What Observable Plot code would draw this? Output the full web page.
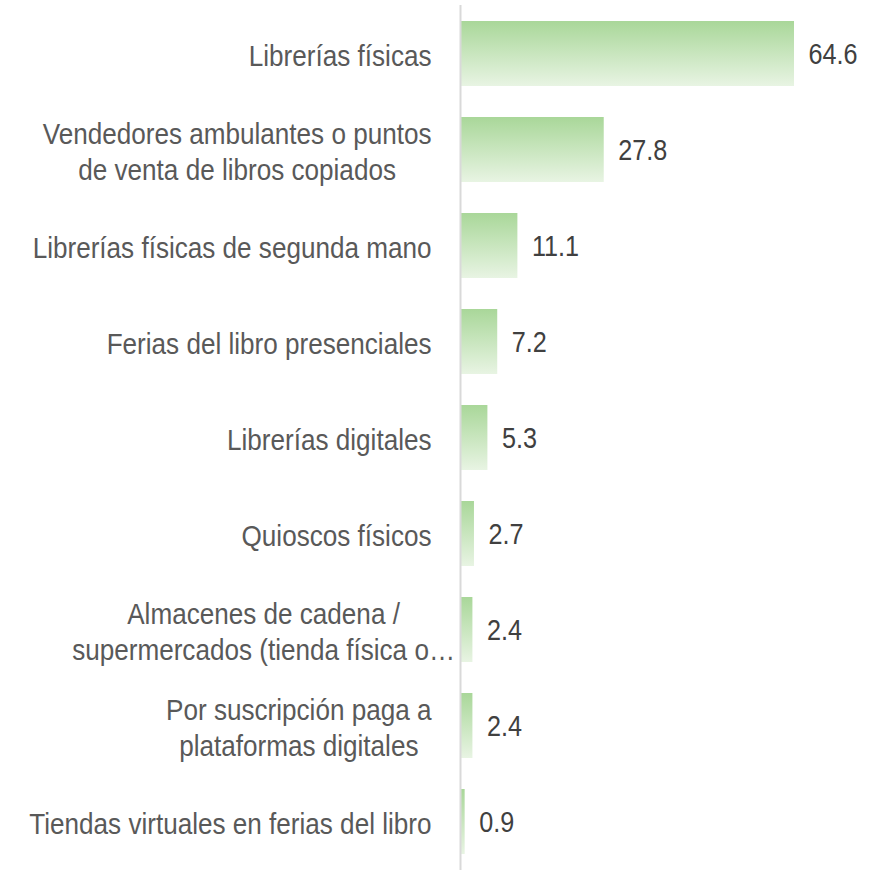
<!DOCTYPE html>
<html><head><meta charset="utf-8">
<script src="https://cdn.jsdelivr.net/npm/d3@7"></script>
<script src="https://cdn.jsdelivr.net/npm/@observablehq/plot@0.6"></script>
<style>body{margin:0;background:#fff;}</style>
</head><body><div id="chart"></div>
<script>
const categories = [
  "Librerías físicas",
  "Vendedores ambulantes o puntos\nde venta de libros copiados",
  "Librerías físicas de segunda mano",
  "Ferias del libro presenciales",
  "Librerías digitales",
  "Quioscos físicos",
  "Almacenes de cadena /\nsupermercados (tienda física o…",
  "Por suscripción paga a\nplataformas digitales",
  "Tiendas virtuales en ferias del libro"
];
const values = [64.6, 27.8, 11.1, 7.2, 5.3, 2.7, 2.4, 2.4, 0.9];
const data = categories.map((c, i) => ({cat: c, value: values[i]}));

const font = '"Liberation Sans Narrow","Arial Narrow","Liberation Sans",Arial,sans-serif';

const gradDefs = () => {
  const defs = d3.create("svg:defs");
  const g = defs.append("linearGradient").attr("id", "barGrad")
    .attr("x1", 0).attr("y1", 0).attr("x2", 0).attr("y2", 1);
  g.append("stop").attr("offset", "0%").attr("stop-color", "#a9d799");
  g.append("stop").attr("offset", "100%").attr("stop-color", "#e8f4e3");
  return defs.node();
};

const chart = Plot.plot({
  width: 887, height: 873,
  marginLeft: 460, marginRight: 93, marginTop: 5, marginBottom: 3,
  style: {fontFamily: font, fontSize: "30px", color: "#595959", background: "#fff"},
  x: {domain: [0, 64.6], axis: null},
  y: {domain: categories, paddingInner: 0.325, paddingOuter: 0.156, axis: null},
  marks: [
    gradDefs,
    Plot.barX(data, {x: "value", y: "cat", fill: "url(#barGrad)"}),
    Plot.ruleX([0], {stroke: "#d9d9d9", strokeWidth: 2}),
    Plot.axisY({tickSize: 0, tickPadding: 29, label: null, fontSize: 30, lineHeight: 1.2, fill: "#595959"}),
    Plot.text(data, {x: "value", y: "cat", text: d => d.value.toFixed(1), textAnchor: "start", dx: 14, fontSize: 30, fill: "#404040"})
  ]
});
document.getElementById("chart").appendChild(chart);

// narrow the glyphs horizontally (no condensed font installed)
function narrow(sel, k) {
  d3.select(chart).selectAll(sel).each(function() {
    const x = this.getAttribute("x");
    let tr = this.getAttribute("transform") || "";
    if (x != null) {
      tr += ` translate(${+x || 0},0)`;
      this.removeAttribute("x");
    }
    this.setAttribute("transform", tr + ` scale(${k},1)`);
  });
}

const labelSel = "g[aria-label='y-axis tick label'] text";
const valueSel = "g[aria-label='text'] text";

// center multi-line tick labels within their right-aligned block;
// truncated labels (ending in an ellipsis) overflow toward the axis
d3.select(chart).selectAll(labelSel).each(function() {
  const spans = Array.from(this.querySelectorAll("tspan"));
  if (spans.length < 2) return;
  const ws = spans.map(s => s.getComputedTextLength());
  const maxW = Math.max(...ws);
  const truncated = this.textContent.trim().endsWith("…");
  const shift = truncated ? 27 : 0;
  spans.forEach((s, i) => s.setAttribute("x", shift - (maxW - ws[i]) / 2));
});
narrow(labelSel, 0.87);
narrow(valueSel, 0.84);
</script>
</body></html>
